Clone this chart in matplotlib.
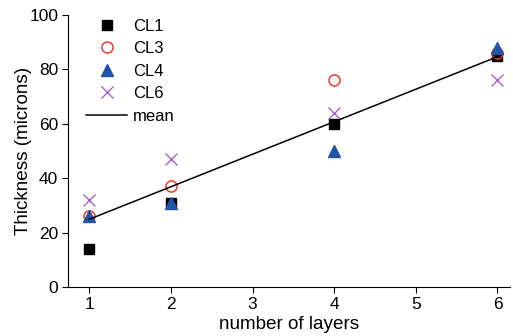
import matplotlib
matplotlib.use('Agg')
import matplotlib.pyplot as plt

plt.rcParams['font.family'] = ['Liberation Sans', 'DejaVu Sans']

layers = [1, 2, 4, 6]
cl1 = [14, 31, 60, 85]
cl3 = [26, 37, 76, 86]
cl4 = [26, 31, 50, 88]
cl6 = [32, 47, 64, 76]
mean_x = [1, 6]
mean_y = [24.9, 84.7]

fig = plt.figure(figsize=(5.13, 3.36), dpi=100)
ax = fig.add_axes([0.1326, 0.146, 0.861, 0.809])

ax.plot(layers, cl1, 's', color='black', ms=7, label='CL1', zorder=3)
ax.plot(layers, cl3, 'o', mfc='none', mec='#ee3b2e', mew=1.1, ms=8, label='CL3', zorder=3)
ax.plot(layers, cl4, '^', color='#1f55a8', ms=8, label='CL4', zorder=4)
ax.plot(layers, cl6, 'x', color='#a864c4', ms=9, mew=1.0, label='CL6', zorder=3)
ax.plot(mean_x, mean_y, '-', color='black', lw=1.1, label='mean', zorder=5)

ax.set_xlim(0.74, 6.15)
ax.set_ylim(0, 100)
ax.set_xticks([1, 2, 3, 4, 5, 6])
ax.set_yticks([0, 20, 40, 60, 80, 100])
ax.tick_params(labelsize=12.5, direction='out', length=4, pad=3)
ax.spines['top'].set_visible(False)
ax.spines['right'].set_visible(False)
ax.set_xlabel('number of layers', fontsize=13.6, labelpad=3)
ax.set_ylabel('Thickness (microns)', fontsize=13.6, labelpad=-2)

ax.legend(loc='upper left', bbox_to_anchor=(0.007, 1.042), frameon=False,
          fontsize=12, handlelength=2.45, handletextpad=0.36,
          labelspacing=0.45, numpoints=1)

fig.savefig('out.png', dpi=100)
